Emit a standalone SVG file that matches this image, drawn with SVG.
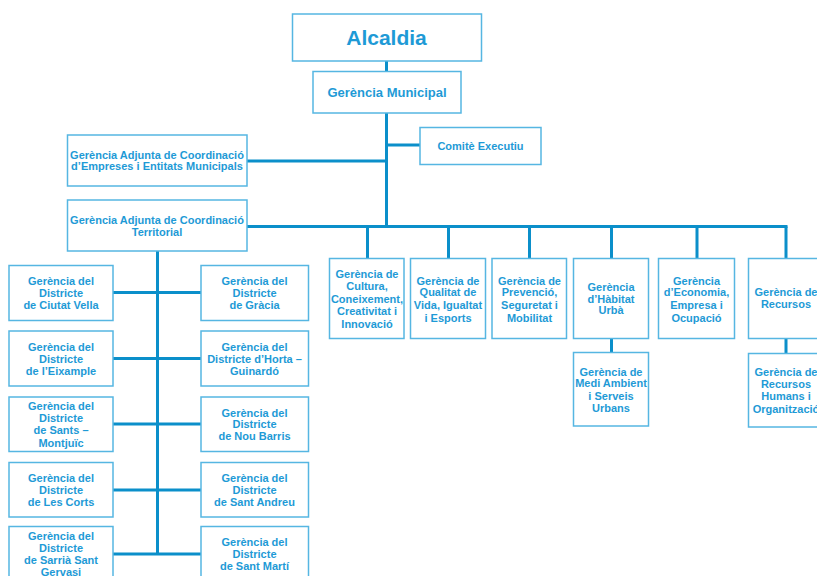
<svg xmlns="http://www.w3.org/2000/svg" width="817" height="576" viewBox="0 0 817 576">
<style>
rect{fill:#fff;stroke:#56b6e2;stroke-width:1.5}
text{font-family:"Liberation Sans",Arial,sans-serif;font-weight:bold;font-size:11px;fill:#1e9ad6;text-anchor:middle}
.c{fill:none;stroke:#0b8fca;stroke-width:3}
.big{font-size:21px}
.mid{font-size:13px}
</style>
<rect x="0" y="0" width="817" height="576" style="fill:#fff;stroke:none"/>
<g id="connectors">
<path class="c" d="M386.5 61V72M386.5 110V227M386.5 145H420M247 161H386.5M247 226.5H787.5"/>
<path class="c" d="M367.5 226.5V258M448.5 226.5V258M529.5 226.5V258M611.5 226.5V258M697 226.5V258M786 226.5V258"/>
<path class="c" d="M611.5 338V352M786 338V353"/>
<path class="c" d="M157.5 251V555M113 292.5H201M113 358.5H201M113 424H201M113 490H201M113 554H201"/>
</g>
<g id="alcaldia"><rect x="292.5" y="14" width="189" height="47"/><text class="big" x="386.5" y="45">Alcaldia</text></g>
<g id="gerencia-municipal"><rect x="313" y="71.5" width="148" height="41.5"/><text class="mid" x="387" y="97">Gerència Municipal</text></g>
<g id="comite-executiu"><rect x="420" y="127.5" width="121" height="37"/><text x="480.5" y="150">Comitè Executiu</text></g>
<g id="ga-empreses"><rect x="67.5" y="135" width="179.5" height="51"/><text x="157" y="158.5">Gerència Adjunta de Coordinació</text><text x="157" y="170">d’Empreses i Entitats Municipals</text></g>
<g id="ga-territorial"><rect x="67.5" y="200" width="179.5" height="51"/><text x="157" y="224">Gerència Adjunta de Coordinació</text><text x="157" y="236">Territorial</text></g>
<g id="cultura"><rect x="329.5" y="258.5" width="74.5" height="80"/><text x="367" y="278">Gerència de</text><text x="367" y="289.5">Cultura,</text><text x="367" y="303">Coneixement,</text><text x="367" y="315">Creativitat  i</text><text x="367" y="327.5">Innovació</text></g>
<g id="qualitat"><rect x="410.5" y="258.5" width="75" height="80"/><text x="448" y="284.5">Gerència de</text><text x="448" y="296">Qualitat de</text><text x="448" y="308.5">Vida, Igualtat</text><text x="448" y="321.5">i Esports</text></g>
<g id="prevencio"><rect x="492" y="258.5" width="74.5" height="80"/><text x="529.5" y="284.5">Gerència de</text><text x="529.5" y="296">Prevenció,</text><text x="529.5" y="308.5">Seguretat i</text><text x="529.5" y="321.5">Mobilitat</text></g>
<g id="habitat"><rect x="573.5" y="258.5" width="75" height="80"/><text x="611" y="290.5">Gerència</text><text x="611" y="302.5">d’Hàbitat</text><text x="611" y="314">Urbà</text></g>
<g id="economia"><rect x="658.5" y="258.5" width="76" height="80"/><text x="696.5" y="284.5">Gerència</text><text x="696.5" y="296">d’Economia,</text><text x="696.5" y="308.5">Empresa i</text><text x="696.5" y="321.5">Ocupació</text></g>
<g id="recursos"><rect x="748.5" y="258.5" width="76" height="80"/><text x="786" y="296">Gerència de</text><text x="786" y="308">Recursos</text></g>
<g id="medi-ambient"><rect x="573.5" y="352.5" width="75" height="73.5"/><text x="611" y="375.5">Gerència de</text><text x="611" y="387">Medi Ambient</text><text x="611" y="399.5">i Serveis</text><text x="611" y="411.5">Urbans</text></g>
<g id="recursos-humans"><rect x="748.5" y="353.5" width="76" height="73.5"/><text x="786" y="375.5">Gerència de</text><text x="786" y="387.5">Recursos</text><text x="786" y="400">Humans i</text><text x="786" y="412.5">Organització</text></g>
<g id="ciutat-vella"><rect x="9" y="265.5" width="104" height="55"/><text x="61" y="284.5">Gerència del</text><text x="61" y="296.5">Districte</text><text x="61" y="308.5">de Ciutat Vella</text></g>
<g id="gracia"><rect x="201" y="265.5" width="107.5" height="55"/><text x="254.5" y="284.5">Gerència del</text><text x="254.5" y="296.5">Districte</text><text x="254.5" y="308.5">de Gràcia</text></g>
<g id="eixample"><rect x="9" y="331" width="104" height="55"/><text x="61" y="350.5">Gerència del</text><text x="61" y="362.5">Districte</text><text x="61" y="374.5">de l’Eixample</text></g>
<g id="horta"><rect x="201" y="331" width="107.5" height="55"/><text x="254.5" y="350.5">Gerència del</text><text x="254.5" y="362.5">Districte d’Horta –</text><text x="254.5" y="374.5">Guinardó</text></g>
<g id="sants"><rect x="9" y="397" width="104" height="54.5"/><text x="61" y="409.5">Gerència del</text><text x="61" y="421.5">Districte</text><text x="61" y="434">de Sants –</text><text x="61" y="446.5">Montjuïc</text></g>
<g id="nou-barris"><rect x="201" y="397" width="107.5" height="54.5"/><text x="254.5" y="416.5">Gerència del</text><text x="254.5" y="427.5">Districte</text><text x="254.5" y="440">de Nou Barris</text></g>
<g id="les-corts"><rect x="9" y="462.5" width="104" height="54.5"/><text x="61" y="481.5">Gerència del</text><text x="61" y="493.5">Districte</text><text x="61" y="506">de Les Corts</text></g>
<g id="sant-andreu"><rect x="201" y="462.5" width="107.5" height="54.5"/><text x="254.5" y="481.5">Gerència del</text><text x="254.5" y="493.5">Districte</text><text x="254.5" y="506">de Sant Andreu</text></g>
<g id="sarria"><rect x="9" y="526.5" width="104" height="60"/><text x="61" y="540">Gerència del</text><text x="61" y="551.5">Districte</text><text x="61" y="563.5">de Sarrià Sant</text><text x="61" y="576">Gervasi</text></g>
<g id="sant-marti"><rect x="201" y="526.5" width="107.5" height="60"/><text x="254.5" y="545.5">Gerència del</text><text x="254.5" y="558">Districte</text><text x="254.5" y="570">de Sant Martí</text></g>
</svg>
